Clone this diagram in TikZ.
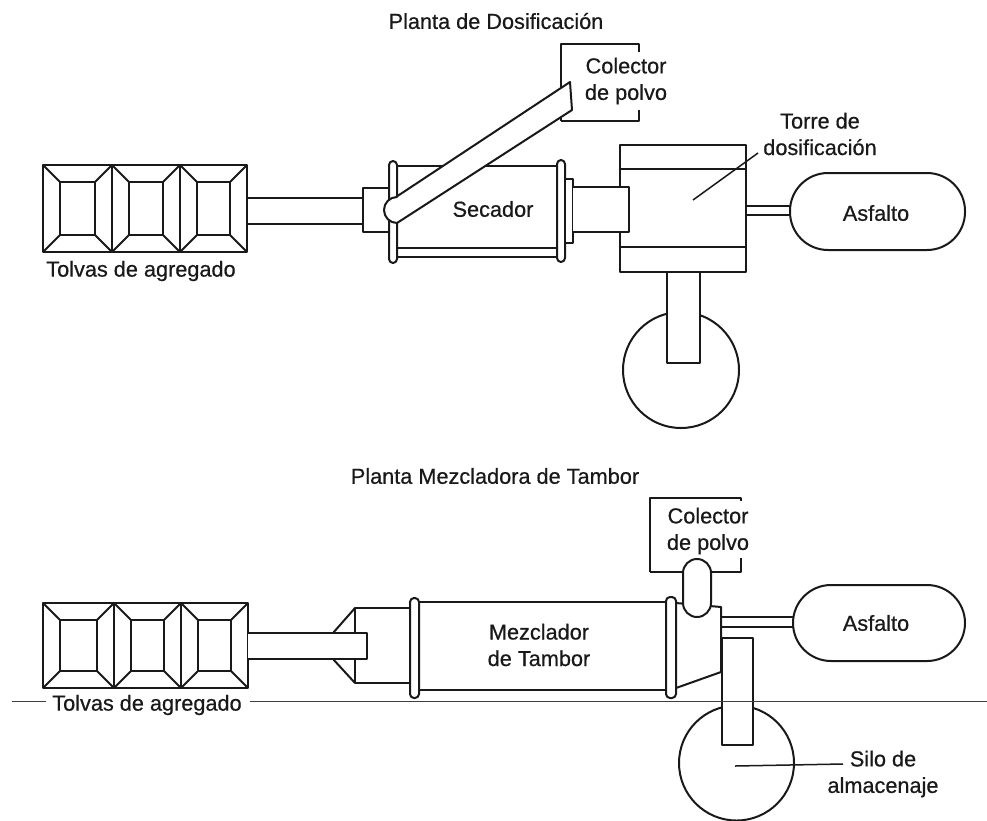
\documentclass[tikz,border=0pt]{standalone}
\usepackage{fontspec}
\setmainfont[BoldFont=Liberation Sans,BoldFeatures={FakeBold=0.5}]{Liberation Sans}
\tikzset{
    equipo/.style={draw=black!90,line width=2pt,fill=white,line join=round},
    guia/.style={draw=black!90,line width=1.5pt},
    corte/.style={draw=black!75,line width=1pt},
    rotulo/.style={font=\fontsize{21.7}{26.5}\selectfont\bfseries,align=center,inner sep=0pt,text=black!90},
}
\begin{document}
\begin{tikzpicture}[x=1pt,y=-1pt]
    \useasboundingbox (0,0) rectangle (987,820);
    \fill[white] (0,0) rectangle (987,820);
    \foreach \yy/\hh/\xa/\xb/\xc/\xd in {165/87/43/112/180/247,603/85/43/114/181/248} {
        \draw[equipo] (\xa,\yy) rectangle (\xd,\yy+\hh);
        \draw[equipo] (\xb,\yy) -- (\xb,\yy+\hh);
        \draw[equipo] (\xc,\yy) -- (\xc,\yy+\hh);
        \foreach \ll/\rr in {\xa/\xb,\xb/\xc,\xc/\xd} {
            \draw[equipo] (\ll+17,\yy+17) rectangle (\rr-17,\yy+\hh-17);
            \draw[equipo] (\ll,\yy) -- (\ll+17,\yy+17);
            \draw[equipo] (\rr,\yy) -- (\rr-17,\yy+17);
            \draw[equipo] (\ll,\yy+\hh) -- (\ll+17,\yy+\hh-17);
            \draw[equipo] (\rr,\yy+\hh) -- (\rr-17,\yy+\hh-17);
        }
    }
    \draw[equipo] (247,198) -- (363,198);
    \draw[equipo] (247,224) -- (363,224);
    \draw[equipo] (363,188) rectangle (392,232);
    \draw[equipo] (397,166) rectangle (557,248);
    \draw[equipo] (397,257) -- (557,257);
    \draw[equipo,rounded corners=4pt] (389,161) rectangle (397,263);
    \draw[equipo,rounded corners=4pt] (557,160) rectangle (565,262);
    \draw[equipo] (565,179) rectangle (573,243);
    \draw[equipo] (561,121) -- (561,44) -- (639,44) -- (639,52);
    \draw[equipo,fill=none] (561,121) -- (639,121) -- (639,110);
    \draw[equipo] (396,197) -- (570,82) -- (572,110) -- (397,223)
        arc[start angle=90,end angle=270,radius=13] -- cycle;
    \draw[equipo] (620,145) rectangle (746,272);
    \draw[equipo] (620,169) -- (746,169);
    \draw[equipo] (620,247) -- (746,247);
    \draw[equipo] (573,187) -- (629,187) -- (629,232) -- (573,232);
    \draw[guia] (693,200) -- (758,153);
    \draw[equipo] (746,206) -- (790,206);
    \draw[equipo] (746,215) -- (790,215);
    \draw[equipo,rounded corners=38pt] (790,173) rectangle (965,250);
    \draw[equipo] (681,370) circle (58);
    \draw[equipo] (667,272) rectangle (700,363);

    \draw[equipo] (355,608) rectangle (410,683);
    \draw[equipo,fill=none] (355,608) -- (333,633);
    \draw[equipo,fill=none] (355,683) -- (333,659);
    \draw[equipo] (248,633) -- (367,633) -- (367,659) -- (248,659);
    \draw[equipo] (419,602) rectangle (667,690);
    \draw[equipo,rounded corners=4pt] (410,598) rectangle (419,698);
    \draw[equipo] (676,603) -- (721,607) -- (721,672) -- (676,688);
    \draw[equipo,rounded corners=4pt] (666,597) rectangle (676,698);
    \draw[equipo,fill=none] (650,572) -- (650,498) -- (741,498) -- (741,501);
    \draw[equipo,fill=none] (650,572) -- (741,572) -- (741,558);
    \draw[equipo,rounded corners=14pt] (683,559) rectangle (711,617);
    \draw[equipo] (721,617) -- (793,617);
    \draw[equipo] (721,627) -- (793,627);
    \draw[equipo,rounded corners=38pt] (793,585) rectangle (965,661);
    \draw[equipo] (736.5,763) circle (57.5);
    \draw[equipo] (722,638) rectangle (753,745);
    \draw[guia] (735,766) -- (843,764);

    \draw[corte] (12,701) -- (46,701);
    \draw[corte] (250,701) -- (987,701);

    \node[rotulo] (tituloa) at (496,21) {Planta de Dosificación};
    \node[rotulo] (titulob) at (495,476) {Planta Mezcladora de Tambor};
    \node[rotulo] (tolvasa) at (141,271) {Tolvas de agregado};
    \node[rotulo] (tolvasb) at (147,705) {Tolvas de agregado};
    \node[rotulo] (secador) at (493,209) {Secador};
    \node[rotulo] (colectora) at (626,81) {Colector\\de polvo};
    \node[rotulo] (colectorb) at (708,531) {Colector\\de polvo};
    \node[rotulo] (torre) at (820,134) {Torre de\\dosificación};
    \node[rotulo] (asfaltoa) at (876,213) {Asfalto};
    \node[rotulo] (asfaltob) at (876,623) {Asfalto};
    \node[rotulo] (mezclador) at (539,645) {Mezclador\\de Tambor};
    \node[rotulo] (silo) at (883,774) {Silo de\\almacenaje};
\end{tikzpicture}
\end{document}
